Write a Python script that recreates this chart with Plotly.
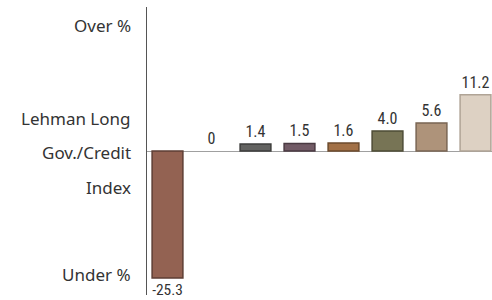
import plotly.graph_objects as go

categories = ["A", "B", "C", "D", "E", "F", "G", "H"]
values = [-25.3, 0, 1.4, 1.5, 1.6, 4.0, 5.6, 11.2]
labels = ["-25.3", "0", "1.4", "1.5", "1.6", "4.0", "5.6", "11.2"]
colors = ["#936252", "#888888", "#636361", "#725b66", "#a27046", "#777455", "#ae937a", "#ddd1c3"]
edge_colors = ["#5e3e34", "#888888", "#3e3e3c", "#4a3a42", "#6c4a2c", "#4e4c36", "#7a6654", "#b0a496"]
edge_widths = [1.5, 0, 1.5, 1.5, 1.5, 1.5, 1.5, 1.5]
side_labels = ["Over %", "Lehman Long", "Gov./Credit", "Index", "Under %"]
side_y = [25, 6.5, -0.2, -7.2, -24.6]

x = list(range(len(categories)))

fig = go.Figure()
fig.add_trace(go.Bar(
    x=x, y=values,
    marker=dict(color=colors, line=dict(color=edge_colors, width=edge_widths)),
    width=0.7,
    text=labels, textposition="outside", cliponaxis=False,
    textfont=dict(family="Liberation Sans Narrow, Roboto Condensed, Roboto", size=16, color="#333333"),
    hoverinfo="skip",
))

for t, yy in zip(side_labels, side_y):
    fig.add_annotation(x=-0.04, xref="paper", y=yy, yref="y", text=t, showarrow=False,
                       xanchor="right", yanchor="middle",
                       font=dict(family="Noto Sans", size=17, color="#333333"))

fig.update_layout(
    width=492, height=300,
    margin=dict(l=147, r=0, t=7, b=5),
    paper_bgcolor="white", plot_bgcolor="white",
    showlegend=False,
    bargap=0.3,
)
fig.update_xaxes(range=[-0.466, 7.375], showticklabels=False, showgrid=False, zeroline=False,
                 showline=False, ticks="")
fig.update_yaxes(range=[-28.7, 28.7], showticklabels=False, showgrid=False,
                 zeroline=True, zerolinecolor="#a0a0a0", zerolinewidth=1,
                 showline=True, linecolor="#555555", linewidth=1, ticks="")

fig.write_html("out.html", config={"displayModeBar": False},
               post_script="document.body.style.margin='0';document.body.style.padding='0';")
